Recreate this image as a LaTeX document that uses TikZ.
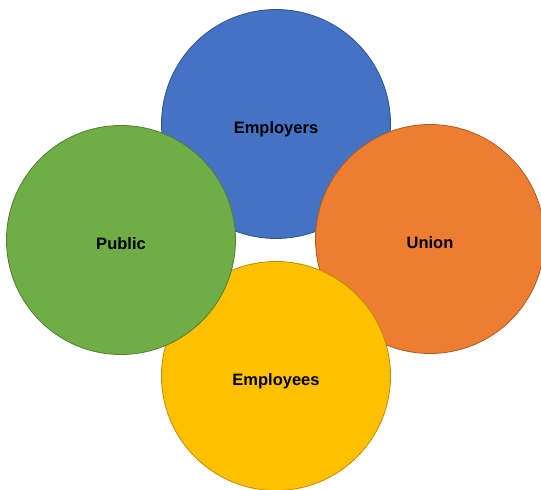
\documentclass[tikz,border=0pt]{standalone}
\usepackage{fontspec}
\setmainfont{Liberation Sans}
\usepackage{tikz}

\definecolor{empblue}{HTML}{4472C4}
\definecolor{empblueline}{HTML}{2F528F}
\definecolor{unionorange}{HTML}{ED7D31}
\definecolor{unionorangeline}{HTML}{AE5A21}
\definecolor{staffyellow}{HTML}{FFC000}
\definecolor{staffyellowline}{HTML}{BC8C00}
\definecolor{publicgreen}{HTML}{70AD47}
\definecolor{publicgreenline}{HTML}{507E32}

\begin{document}
\begin{tikzpicture}[x=1pt,y=-1pt]
\tikzstyle{party}=[circle,minimum size=229pt,inner sep=0pt,line width=0.8pt,text height=18pt,text depth=0pt,font=\fontsize{16.5}{18}\selectfont\bfseries,text=black]
\useasboundingbox (0,0) rectangle (541,490);
% drawn back to front
\node[party,fill=empblue,draw=empblueline] (employers) at (276,124) {Employers};
\node[party,fill=unionorange,draw=unionorangeline] (union) at (430,239) {Union};
\node[party,fill=staffyellow,draw=staffyellowline] (employees) at (276,376) {Employees};
\node[party,fill=publicgreen,draw=publicgreenline] (public) at (121,240) {Public};
\end{tikzpicture}
\end{document}
